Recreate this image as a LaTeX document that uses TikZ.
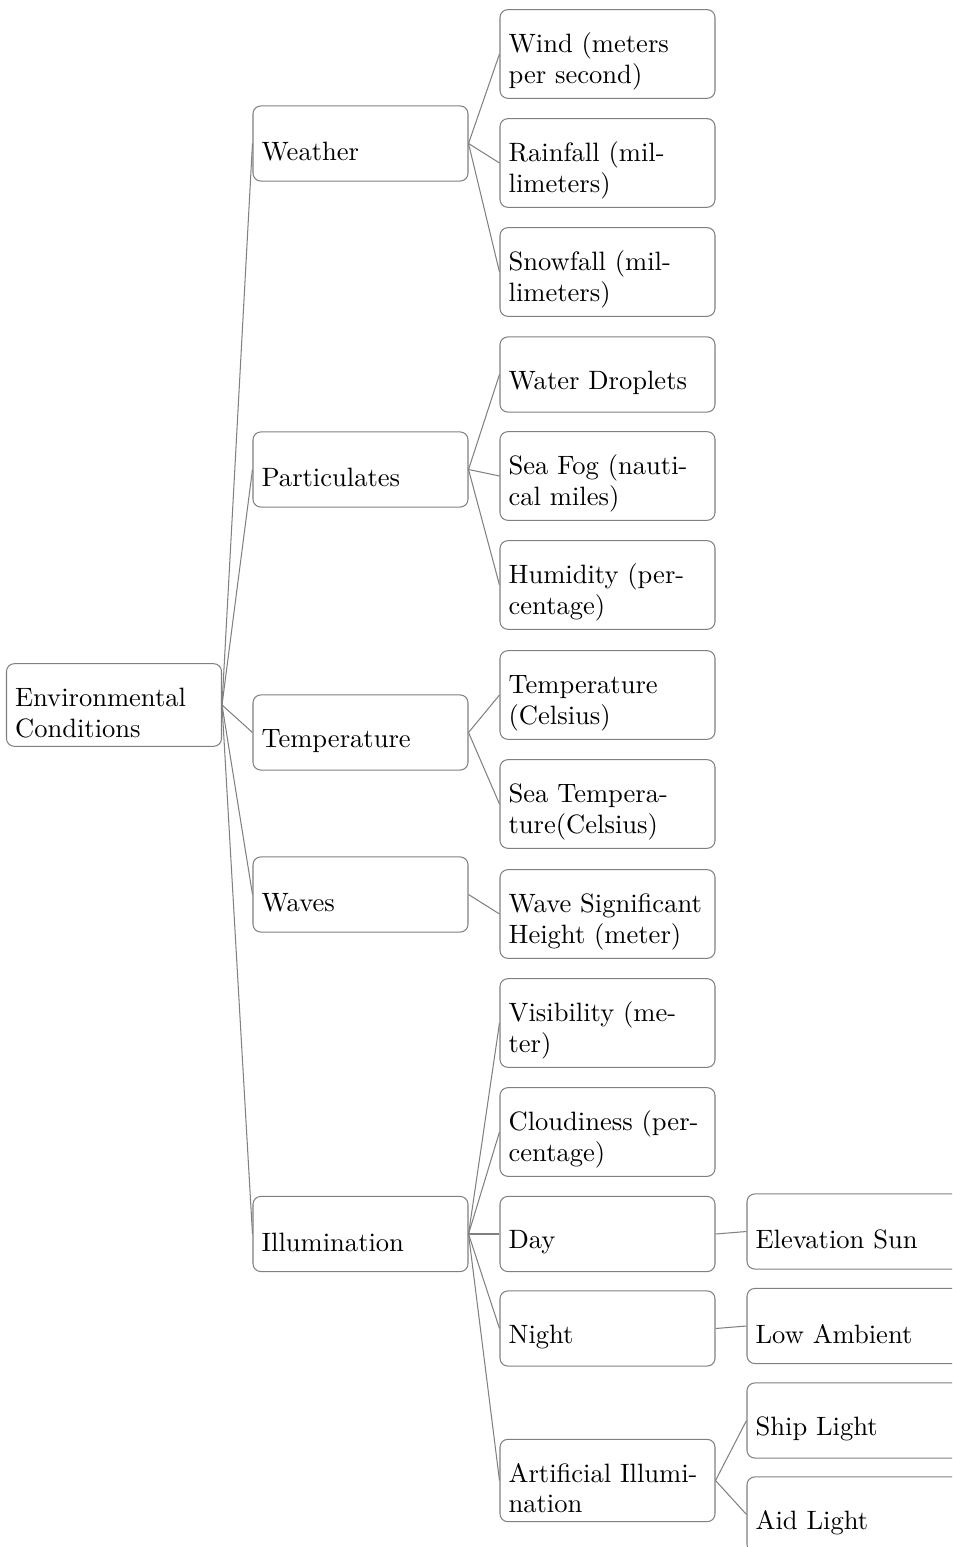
\documentclass[tikz,border=0pt]{standalone}
\begin{document}
\begin{tikzpicture}[x=0.3861pt, y=-0.3861pt,
  box/.style={draw=gray, rounded corners=3pt, align=left,
    text width=215*0.3861pt-6.66pt, inner sep=3.33pt,
    minimum height=29pt, font=\fontsize{10.25pt}{11.7pt}\selectfont,
    execute at begin node={\rule{0pt}{13.3pt}}},
  link/.style={draw=gray, line width=0.4pt}]
\useasboundingbox (0,0) rectangle (952,1547);
\clip (0,0) rectangle (952,1547);

% root
\node[box] (env) at (114,705) {Environmental\\Conditions};

% first level
\node[box] (weather) at (360.5,143.5) {Weather};
\node[box] (part)    at (360.5,469.5) {Particulates};
\node[box] (temp)    at (360.5,732.5) {Temperature};
\node[box] (waves)   at (360.5,894.5) {Waves};
\node[box] (illum)   at (360.5,1234)  {Illumination};

% second level
\node[box] (wind)   at (607.5,54)    {Wind (meters\\per second)};
\node[box] (rain)   at (607.5,163)   {Rainfall (mil-\\limeters)};
\node[box] (snow)   at (607.5,272)   {Snowfall (mil-\\limeters)};
\node[box] (drop)   at (607.5,374.5) {Water Droplets};
\node[box] (fog)    at (607.5,476)   {Sea Fog (nauti-\\cal miles)};
\node[box] (humid)  at (607.5,585)   {Humidity (per-\\centage)};
\node[box] (tcel)   at (607.5,695)   {Temperature\\(Celsius)};
\node[box] (stemp)  at (607.5,804)   {Sea Tempera-\\ture(Celsius)};
\node[box] (wave)   at (607.5,914)   {Wave Significant\\Height (meter)};
\node[box] (vis)    at (607.5,1023)  {Visibility (me-\\ter)};
\node[box] (cloud)  at (607.5,1132)  {Cloudiness (per-\\centage)};
\node[box] (day)    at (607.5,1234)  {Day};
\node[box] (night)  at (607.5,1328.5){Night};
\node[box] (art)    at (607.5,1480.5){Artificial Illumi-\\nation};

% third level
\node[box] (sun)    at (854.5,1231.5){Elevation Sun};
\node[box] (amb)    at (854.5,1326)  {Low Ambient};
\node[box] (ship)   at (854.5,1420.5){Ship Light};
\node[box] (aid)    at (854.5,1514.5){Aid Light};

% connectors
\foreach \c in {weather,part,temp,waves,illum}
  \draw[link] (env.east) -- (\c.west);
\foreach \c in {wind,rain,snow}
  \draw[link] (weather.east) -- (\c.west);
\foreach \c in {drop,fog,humid}
  \draw[link] (part.east) -- (\c.west);
\foreach \c in {tcel,stemp}
  \draw[link] (temp.east) -- (\c.west);
\draw[link] (waves.east) -- (wave.west);
\foreach \c in {vis,cloud,day,night,art}
  \draw[link] (illum.east) -- (\c.west);
\draw[link] (day.east) -- (sun.west);
\draw[link] (night.east) -- (amb.west);
\foreach \c in {ship,aid}
  \draw[link] (art.east) -- (\c.west);
\end{tikzpicture}
\end{document}
